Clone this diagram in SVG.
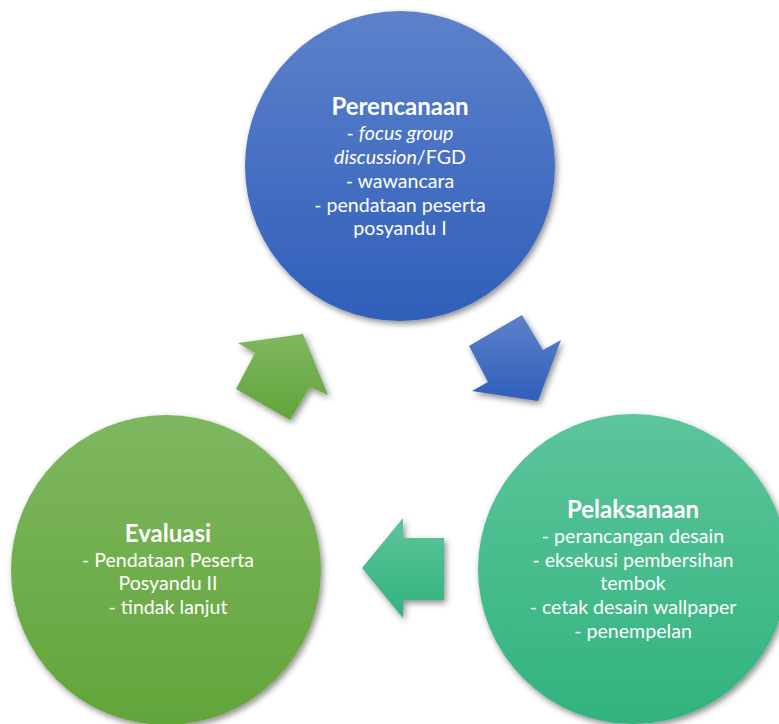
<svg xmlns="http://www.w3.org/2000/svg" width="779" height="724" viewBox="0 0 779 724">
<defs>
<linearGradient id="gBlue" x1="0" y1="0" x2="0" y2="1"><stop offset="0" stop-color="#5d81cb"/><stop offset="1" stop-color="#2f5fba"/></linearGradient>
<linearGradient id="gGreen" x1="0" y1="0" x2="0" y2="1"><stop offset="0" stop-color="#7eb760"/><stop offset="1" stop-color="#62a53a"/></linearGradient>
<linearGradient id="gTeal" x1="0" y1="0" x2="0" y2="1"><stop offset="0" stop-color="#5dc59b"/><stop offset="1" stop-color="#31b37e"/></linearGradient>
<filter id="sh" x="-20%" y="-20%" width="140%" height="140%"><feDropShadow dx="2" dy="3" stdDeviation="3" flood-color="#000" flood-opacity="0.45"/></filter>
<style>
text{font-family:Lato,"Open Sans","Liberation Sans",sans-serif;fill:#fff;text-anchor:middle;font-size:19.6px}
.h{font-weight:bold;font-size:24px}
</style>
</defs>
<g id="connectors">
<polygon points="522,315 469,346 488,382 472,391 538,401 561,340 543,350" fill="url(#gBlue)" filter="url(#sh)"/>
<polygon points="362,568 403,518 403,538 444,538 444,600 403,600 403,618" fill="url(#gTeal)" filter="url(#sh)"/>
<polygon points="236,389 255,353 238,343 303,334 328,395 310,387 290,420" fill="url(#gGreen)" filter="url(#sh)"/>
</g>
<g id="perencanaan">
<circle cx="400" cy="166" r="155" fill="url(#gBlue)" filter="url(#sh)"/>
<text x="400" y="115" class="h">Perencanaan</text>
<text x="400" y="140">- <tspan font-style="italic">focus group</tspan></text>
<text x="400" y="164"><tspan font-style="italic">discussion</tspan>/FGD</text>
<text x="400" y="188">- wawancara</text>
<text x="400" y="212">- pendataan peserta</text>
<text x="400" y="235">posyandu I</text>
</g>
<g id="pelaksanaan">
<circle cx="633" cy="569" r="155" fill="url(#gTeal)" filter="url(#sh)"/>
<text x="633" y="518" class="h">Pelaksanaan</text>
<text x="633" y="543">- perancangan desain</text>
<text x="633" y="567">- eksekusi pembersihan</text>
<text x="633" y="590">tembok</text>
<text x="633" y="614">- cetak desain wallpaper</text>
<text x="633" y="638">- penempelan</text>
</g>
<g id="evaluasi">
<circle cx="166" cy="570" r="155" fill="url(#gGreen)" filter="url(#sh)"/>
<text x="168" y="542" class="h">Evaluasi</text>
<text x="168" y="567">- Pendataan Peserta</text>
<text x="168" y="590">Posyandu II</text>
<text x="168" y="614">- tindak lanjut</text>
</g>
</svg>
